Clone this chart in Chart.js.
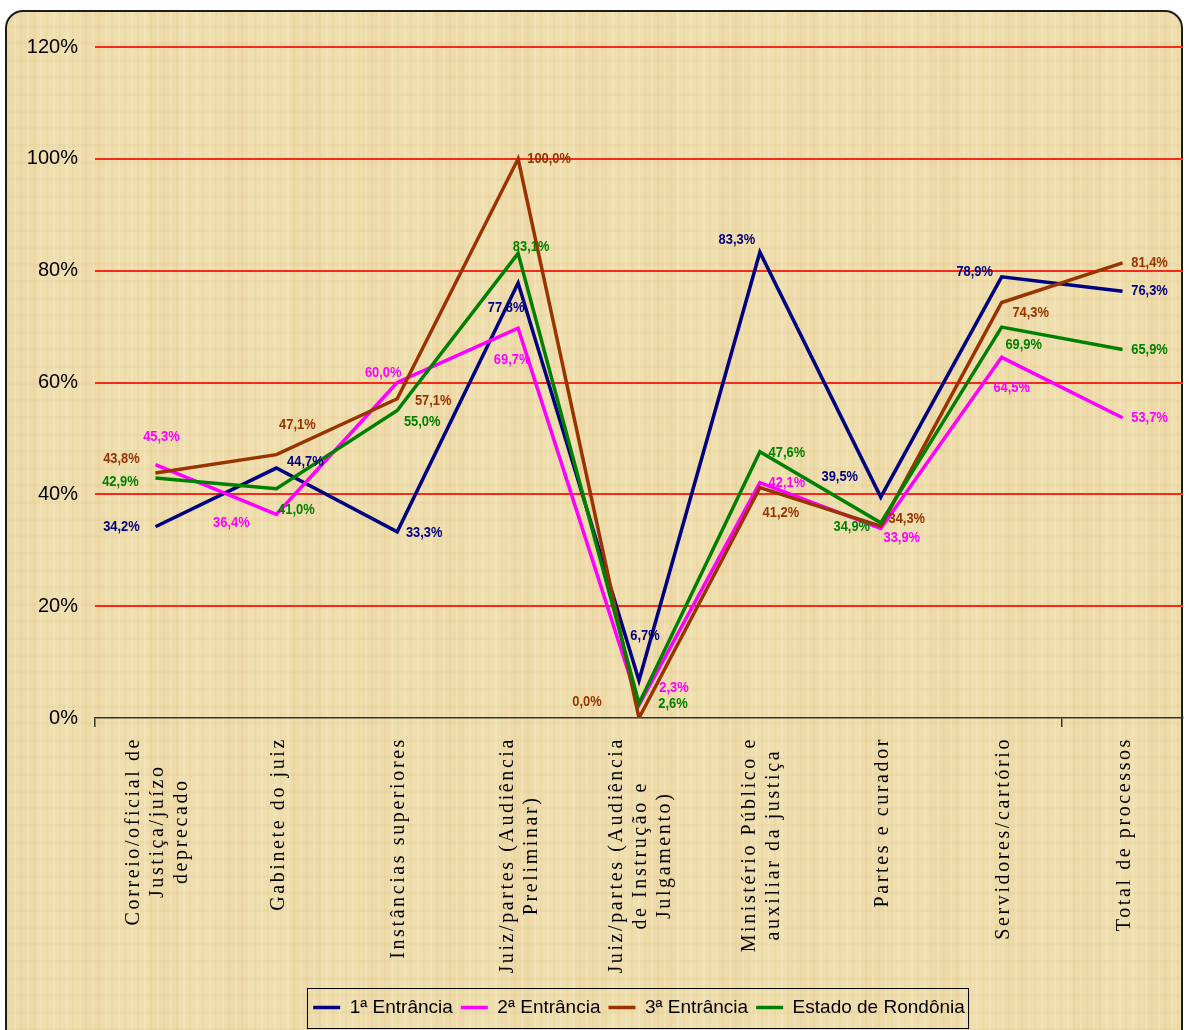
<!DOCTYPE html>
<html>
<head>
<meta charset="utf-8">
<script src="https://cdn.jsdelivr.net/npm/chart.js@4.4.0/dist/chart.umd.min.js"></script>
<style>
  html, body { margin: 0; padding: 0; background: #fff; }
  #wrap { position: relative; width: 1189px; height: 1030px; overflow: hidden; }
  #frame {
    position: absolute; left: 5px; top: 10px; width: 1178px; height: 1040px;
    border: 2px solid #1c1c1c; border-radius: 18px; box-sizing: border-box;
    background-color: #efdeae;
    background-image:
      repeating-linear-gradient(90deg, rgba(180,140,60,0.06) 0px, rgba(180,140,60,0.06) 2px, transparent 2px, transparent 7px, rgba(255,248,225,0.20) 7px, rgba(255,248,225,0.20) 9px, transparent 9px, transparent 13px),
      repeating-linear-gradient(0deg, rgba(180,140,60,0.05) 0px, rgba(180,140,60,0.05) 3px, transparent 3px, transparent 17px),
      repeating-linear-gradient(90deg, rgba(210,175,90,0.07) 0px, rgba(210,175,90,0.07) 30px, transparent 30px, transparent 71px);
  }
  #chart { position: absolute; left: 0; top: 0; }
</style>
</head>
<body>
<div id="wrap">
  <div id="frame"></div>
  <canvas id="chart" width="1189" height="1030"></canvas>
</div>
<script>
// categorias (cada uma em linhas, como no eixo original)
const categories = [
  ['Correio/oficial de', 'Justiça/juízo', 'deprecado'],
  ['Gabinete do juiz'],
  ['Instâncias superiores'],
  ['Juiz/partes (Audiência', 'Preliminar)'],
  ['Juiz/partes (Audiência', 'de Instrução e', 'Julgamento)'],
  ['Ministério Público e', 'auxiliar da justiça'],
  ['Partes e curador'],
  ['Servidores/cartório'],
  ['Total de processos']
];

const seriesNames = ['1ª Entrância', '2ª Entrância', '3ª Entrância', 'Estado de Rondônia'];
const entrancia1 = [34.2, 44.7, 33.3, 77.8, 6.7, 83.3, 39.5, 78.9, 76.3];
const entrancia2 = [45.3, 36.4, 60.0, 69.7, 2.3, 42.1, 33.9, 64.5, 53.7];
const entrancia3 = [43.8, 47.1, 57.1, 100.0, 0.0, 41.2, 34.3, 74.3, 81.4];
const estado     = [42.9, 41.0, 55.0, 83.1, 2.6, 47.6, 34.9, 69.9, 65.9];

const yTicks = [0, 20, 40, 60, 80, 100, 120];

const colors = ['#000080', '#ff00ff', '#993300', '#008000'];

// deslocamento dos rótulos de dados (dx, dy em px)
const offs1 = [[-34,0],[29,-6],[27,1],[-12,25],[6,-45],[-23,-12],[-41,-20],[-27,-5],[27,0]];
const offs2 = [[6,-28],[-45,8],[-14,-10],[-6,32],[35,-17],[27,0],[21,9],[10,31],[27,0]];
const offs3 = [[-34,-14],[21,-30],[36,2],[31,0],[-52,-16],[21,25],[26,-7],[29,10],[27,0]];
const offs4 = [[-35,4],[20,21],[25,11],[13,-6],[34,0],[27,1],[-29,4],[22,18],[27,0]];
const labelOffsets = [offs1, offs2, offs3, offs4];

const SANS = '"Liberation Sans", Arial, sans-serif';

// rótulos de dados em fonte "estreita" (escala horizontal)
const dataLabels = {
  id: 'dataLabels',
  afterDatasetsDraw(chart) {
    const ctx = chart.ctx;
    const sx = 0.86;
    ctx.save();
    ctx.font = 'bold 15px ' + SANS;
    ctx.textAlign = 'center';
    ctx.textBaseline = 'middle';
    chart.data.datasets.forEach((ds, i) => {
      const meta = chart.getDatasetMeta(i);
      ctx.fillStyle = ds.borderColor;
      meta.data.forEach((pt, j) => {
        const o = labelOffsets[i][j];
        const txt = ds.data[j].toFixed(1).replace('.', ',') + '%';
        ctx.save();
        ctx.translate(pt.x + o[0], pt.y + o[1]);
        ctx.scale(sx, 1);
        ctx.fillText(txt, 0, 0);
        ctx.restore();
      });
    });
    ctx.restore();
  }
};

// rótulos do eixo x, girados e centralizados por linha
const xLabels = {
  id: 'xLabels',
  afterDraw(chart) {
    const ctx = chart.ctx;
    const xs = chart.scales.x;
    ctx.save();
    ctx.font = '20px "Liberation Serif", "Times New Roman", serif';
    ctx.letterSpacing = '2.6px';
    ctx.fillStyle = '#000';
    ctx.textAlign = 'center';
    ctx.textBaseline = 'middle';
    const lineH = 24;
    const top = xs.top + 19;
    categories.forEach((lines, i) => {
      const cx = xs.getPixelForValue(i) + 2;
      const widths = lines.map(l => ctx.measureText(l).width);
      const maxW = Math.max(...widths);
      lines.forEach((l, k) => {
        const lx = cx + (k - (lines.length - 1) / 2) * lineH;
        ctx.save();
        ctx.translate(lx, top + maxW / 2);
        ctx.rotate(-Math.PI / 2);
        ctx.fillText(l, 0, 0);
        ctx.restore();
      });
    });
    ctx.restore();
  }
};

// moldura da legenda
const legendBox = {
  id: 'legendBox',
  afterDraw(chart) {
    const lg = chart.legend;
    if (!lg || !lg.legendHitBoxes.length) return;
    const hb = lg.legendHitBoxes;
    const left = Math.min(...hb.map(h => h.left));
    const right = Math.max(...hb.map(h => h.left + h.width));
    const mid = hb[0].top + hb[0].height / 2;
    const ctx = chart.ctx;
    ctx.save();
    ctx.strokeStyle = '#000';
    ctx.lineWidth = 1;
    ctx.strokeRect(Math.round(left - 6) + 0.5, Math.round(mid - 20) + 0.5, Math.round(right - left + 9), 40);
    ctx.restore();
  }
};

const seriesData = [entrancia1, entrancia2, entrancia3, estado];

new Chart(document.getElementById('chart'), {
  type: 'line',
  data: {
    labels: categories.map(c => c.join(' ')),
    datasets: seriesData.map((d, i) => ({
      label: seriesNames[i],
      data: d,
      borderColor: colors[i],
      backgroundColor: colors[i],
      borderWidth: 3.5,
      pointRadius: 0,
      tension: 0,
      order: 3 - i
    }))
  },
  options: {
    responsive: false,
    animation: false,
    layout: { padding: { left: 0, right: 6, top: 47, bottom: 3 } },
    scales: {
      x: {
        offset: true,
        afterFit(scale) { scale.height = 272; },
        grid: {
          offset: true,
          drawOnChartArea: false,
          drawTicks: true,
          tickLength: 9,
          lineWidth: 1.5,
          color: c => (c.index === 0 || c.index === 8) ? '#333' : 'rgba(0,0,0,0)'
        },
        border: { display: true, color: '#333', width: 1.5 },
        ticks: { display: false }
      },
      y: {
        min: 0,
        max: 120,
        afterFit(scale) { scale.width = 95; },
        afterBuildTicks(scale) { scale.ticks = yTicks.map(v => ({ value: v })); },
        grid: {
          drawTicks: false,
          lineWidth: 2,
          color: c => c.tick.value === 0 ? 'rgba(0,0,0,0)' : '#f52a1a'
        },
        border: { display: false },
        ticks: {
          padding: 17,
          color: '#000',
          font: { family: SANS, size: 20 },
          callback: v => v + '%'
        }
      }
    },
    plugins: {
      legend: {
        position: 'bottom',
        fullSize: false,
        labels: {
          usePointStyle: true,
          pointStyle: 'line',
          pointStyleWidth: 27,
          padding: 8,
          color: '#000',
          font: { family: SANS, size: 19 },
          sort: (a, b) => a.datasetIndex - b.datasetIndex
        }
      },
      tooltip: { enabled: false }
    }
  },
  plugins: [dataLabels, xLabels, legendBox]
});
</script>
</body>
</html>
